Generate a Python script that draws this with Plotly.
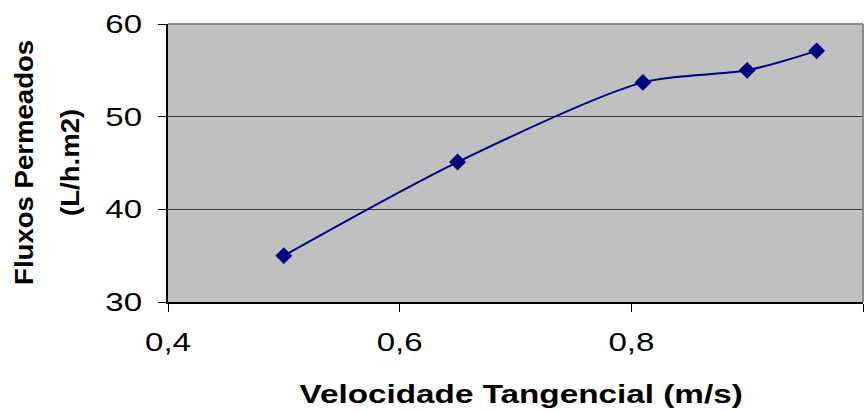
import plotly.graph_objects as go

# Tangential velocity (m/s) vs permeate flux (L/h.m2)
velocidade = [0.50, 0.65, 0.81, 0.90, 0.96]
fluxo = [35.0, 45.1, 53.7, 55.0, 57.1]

x_ticks = [0.4, 0.6, 0.8, 1.0]
y_ticks = [30, 40, 50, 60]

x_title = "Velocidade Tangencial (m/s)"
y_title_1 = "Fluxos Permeados"
y_title_2 = "(L/h.m2)"

NAVY = "#000080"
FONT = "Liberation Sans, Arial, sans-serif"

fig = go.Figure(
    go.Scatter(
        x=velocidade,
        y=fluxo,
        mode="lines+markers",
        line=dict(color=NAVY, width=2, shape="spline", smoothing=0.8),
        marker=dict(symbol="diamond", size=13, color=NAVY),
        showlegend=False,
    )
)

fig.update_layout(
    width=868,
    height=412,
    margin=dict(l=168, r=5, t=24, b=110),
    paper_bgcolor="white",
    plot_bgcolor="#C0C0C0",
    separators=",.",
    font=dict(family=FONT, size=26, color="black"),
)

fig.update_xaxes(
    range=[0.4, 1.0],
    tickvals=x_ticks,
    ticks="outside",
    ticklen=8,
    tickwidth=1,
    tickcolor="black",
    showline=True,
    linecolor="black",
    linewidth=1.5,
    showgrid=False,
    zeroline=False,
    ticklabelstandoff=8,
    tickfont=dict(family=FONT, size=26, color="black"),
)

fig.update_yaxes(
    range=[30, 60],
    tickvals=y_ticks,
    ticks="outside",
    ticklen=8,
    tickwidth=1,
    tickcolor="black",
    showline=True,
    linecolor="black",
    linewidth=1.5,
    showgrid=True,
    gridcolor="#3a3a3a",
    gridwidth=1,
    zeroline=False,
    ticklabelstandoff=11,
    tickfont=dict(family=FONT, size=26, color="black"),
)

# grey frame on the top and right of the plotting area
for x0, y0, x1, y1 in [(0, 1, 1, 1), (1, 0, 1, 1)]:
    fig.add_shape(
        type="line", xref="x domain", yref="y domain",
        x0=x0, y0=y0, x1=x1, y1=y1,
        line=dict(color="#8a8a8a", width=2), layer="above",
    )

fig.add_annotation(
    text=f"<b>{x_title}</b>", xref="paper", yref="paper",
    x=0.508, y=0, xanchor="center", yanchor="middle", yshift=-92,
    showarrow=False, font=dict(family=FONT, size=26, color="black"),
)
fig.add_annotation(
    text=f"<b>{y_title_1}</b>", xref="paper", yref="paper",
    x=0, y=0.5, xanchor="center", yanchor="middle", xshift=-144,
    textangle=-90, showarrow=False,
    font=dict(family=FONT, size=26, color="black"),
)
fig.add_annotation(
    text=f"<b>{y_title_2}</b>", xref="paper", yref="paper",
    x=0, y=0.5, xanchor="center", yanchor="middle", xshift=-98,
    textangle=-90, showarrow=False,
    font=dict(family=FONT, size=26, color="black"),
)

# widen the lettering a little, like the wide sans face of the original sheet
post = """
(function(){
  function widen(t, k){
    if (t.getAttribute('data-wide')) return;
    var w = t.getComputedTextLength();
    if (!w) return;
    t.setAttribute('textLength', (w*k).toFixed(2));
    t.setAttribute('lengthAdjust', 'spacingAndGlyphs');
    t.setAttribute('data-wide', '1');
  }
  function run(){
    document.querySelectorAll('g.xtick text, g.ytick text').forEach(function(t){ widen(t, 1.27); });
    document.querySelectorAll('text.annotation-text').forEach(function(t, i){
      widen(t, i === 0 ? 1.28 : 1.06);
    });
  }
  run();
  setTimeout(run, 0);
})();
"""

fig.write_html("out.html", post_script=post)
